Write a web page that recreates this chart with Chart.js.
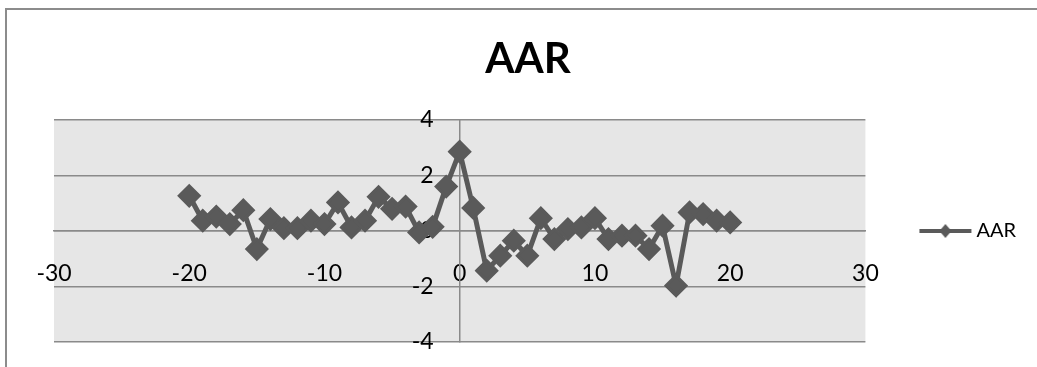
<!DOCTYPE html>
<html>
<head>
<meta charset="utf-8">
<script src="https://cdn.jsdelivr.net/npm/chart.js@4"></script>
<style>
  body { margin: 0; background: #fff; }
  #wrap { width: 1037px; height: 367px; }
</style>
</head>
<body>
<div id="wrap"><canvas id="aar-chart" width="1037" height="367"></canvas></div>
<script>
// event days and average abnormal returns
const days = [-20, -19, -18, -17, -16, -15, -14, -13, -12, -11, -10, -9, -8, -7, -6, -5, -4, -3, -2, -1,
  0, 1, 2, 3, 4, 5, 6, 7, 8, 9, 10, 11, 12, 13, 14, 15, 16, 17, 18, 19, 20];
const aarValues = [1.27, 0.37, 0.52, 0.25, 0.75, -0.65, 0.43, 0.1, 0.1, 0.37, 0.25, 1.03, 0.13, 0.37, 1.23, 0.8, 0.88, -0.05, 0.15, 1.6,
  2.86, 0.83, -1.43, -0.89, -0.35, -0.89, 0.46, -0.29, 0.07, 0.13, 0.46, -0.29, -0.17, -0.17, -0.65, 0.19, -1.97, 0.67, 0.61, 0.37, 0.31];
const xTicks = [-30, -20, -10, 0, 10, 20, 30];
const yTicks = [-4, -2, 0, 2, 4];

const seriesColor = "#5a5a5a";
const gridColor = "#8a8a8a";

Chart.defaults.font.family = "Lato";
Chart.defaults.color = "#000";

// legend symbol: line with a small diamond, like excel
const legendIcon = document.createElement("canvas");
legendIcon.width = 54;
legendIcon.height = 16;
(function () {
  const c = legendIcon.getContext("2d");
  c.strokeStyle = seriesColor;
  c.lineWidth = 4;
  c.beginPath();
  c.moveTo(1, 8);
  c.lineTo(53, 8);
  c.stroke();
  c.fillStyle = seriesColor;
  c.beginPath();
  c.moveTo(27, 1);
  c.lineTo(33, 8);
  c.lineTo(27, 15);
  c.lineTo(21, 8);
  c.closePath();
  c.fill();
})();

// grey plot area + chart frame, title centred like excel, y labels off the axis
const excelLook = {
  id: "excelLook",
  afterLayout(chart) {
    // excel centres the title on plot + legend gap, not on the whole canvas
    chart.titleBlock.left = 54;
    chart.titleBlock.right = 1002;
  },
  beforeDraw(chart) {
    const { ctx, chartArea: { left, top, width, height } } = chart;
    const ys = chart.scales.y;
    if (!ys._shifted) {
      const orig = ys.drawLabels;
      ys.drawLabels = function (area) {
        this.ctx.save();
        this.ctx.translate(-26, 0);
        orig.call(this, area);
        this.ctx.restore();
      };
      ys._shifted = true;
    }
    ctx.save();
    ctx.fillStyle = "#e6e6e6";
    ctx.fillRect(left, top, width, height);
    ctx.strokeStyle = "#8c8c8c";
    ctx.lineWidth = 2;
    ctx.beginPath();
    ctx.moveTo(6, chart.height);
    ctx.lineTo(6, 9);
    ctx.lineTo(chart.width, 9);
    ctx.stroke();
    ctx.restore();
  },
};

const points = days.map((d, i) => ({ x: d, y: aarValues[i] }));

const config = {
  type: "scatter",
  data: {
    datasets: [
      {
        label: "AAR",
        data: points,
        showLine: true,
        borderColor: seriesColor,
        backgroundColor: seriesColor,
        borderWidth: 5,
        pointStyle: "rectRot",
        pointRadius: 10,
        pointBorderWidth: 3,
        pointBackgroundColor: seriesColor,
        pointBorderColor: seriesColor,
      },
    ],
  },
  options: {
    responsive: false,
    animation: false,
    layout: { padding: { left: 54, right: 11, top: 0, bottom: 25 } },
    scales: {
      x: {
        type: "linear",
        position: { y: 0 },
        min: -30,
        max: 30,
        afterBuildTicks: (scale) => { scale.ticks = xTicks.map((v) => ({ value: v })); },
        grid: { display: false, drawTicks: false },
        border: { display: true, color: gridColor, width: 1.5 },
        ticks: { padding: 29, font: { size: 23 }, color: "#000" },
      },
      y: {
        type: "linear",
        position: { x: 0 },
        min: -4,
        max: 4,
        afterBuildTicks: (scale) => { scale.ticks = yTicks.map((v) => ({ value: v })); },
        grid: { color: gridColor, lineWidth: 1.5, drawTicks: false },
        border: { display: true, color: gridColor, width: 1.5 },
        ticks: { font: { size: 23 }, color: "#000" },
      },
    },
    plugins: {
      title: {
        display: true,
        text: "AAR",
        color: "#000",
        font: { size: 42, weight: "bold" },
        padding: { top: 34, bottom: 35.6 },
      },
      legend: {
        position: "right",
        fullSize: false,
        labels: {
          usePointStyle: true,
          pointStyleWidth: 42,
          padding: 59,
          color: "#000",
          font: { size: 20 },
          generateLabels(chart) {
            const items = Chart.defaults.plugins.legend.labels.generateLabels(chart);
            items.forEach((it) => { it.pointStyle = legendIcon; });
            return items;
          },
        },
      },
      tooltip: { enabled: false },
    },
  },
  plugins: [excelLook],
};

const aarChart = new Chart(document.getElementById("aar-chart"), config);
</script>
</body>
</html>
